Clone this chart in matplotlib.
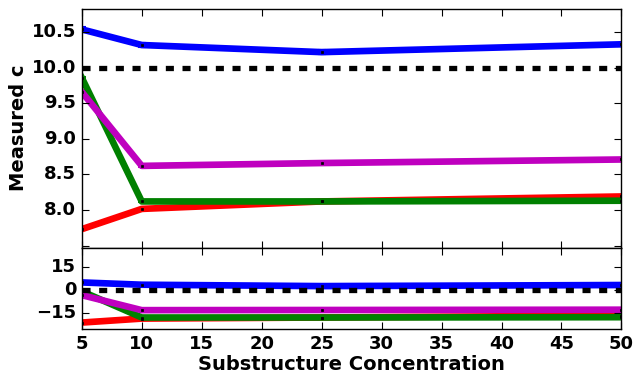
import matplotlib
matplotlib.use("Agg")
import matplotlib.pyplot as plt
from matplotlib.ticker import FixedLocator

plt.style.use("classic")
plt.rcParams['font.family'] = ['DejaVu Sans']
plt.rcParams['font.weight'] = 'bold'

# data
conc = [5, 10, 25, 50]
true_c = 10.0

c_blue = [10.54, 10.32, 10.22, 10.33]
c_magenta = [9.66, 8.62, 8.66, 8.71]
c_green = [9.86, 8.12, 8.12, 8.13]
c_red = [7.73, 8.015, 8.12, 8.19]

err_blue = [0.03, 0.03, 0.03, 0.02]
err_magenta = [0.01, 0.01, 0.01, 0.01]
err_green = [0.01, 0.01, 0.01, 0.01]
err_red = [0.01, 0.01, 0.01, 0.01]

# percent deviation panel
d_blue = [4.8, 3.3, 2.4, 3.1]
d_magenta = [-3.5, -13.3, -13.2, -13.0]
d_green = [-1.0, -18.1, -18.1, -17.9]
d_red = [-21.4, -18.8, -18.1, -16.8]

series = [
    ("r", c_red, err_red, d_red),
    ("g", c_green, err_green, d_green),
    ("m", c_magenta, err_magenta, d_magenta),
    ("b", c_blue, err_blue, d_blue),
]

xticks = [5, 10, 15, 20, 25, 30, 35, 40, 45, 50]
top_yticks = [7.5, 8.0, 8.5, 9.0, 9.5, 10.0, 10.5]
bot_yticks = [-15, 0, 15]

fig = plt.figure(figsize=(6.44, 3.81), dpi=100, facecolor="white")
ax1 = fig.add_axes([0.127, 0.350, 0.838, 0.627])
ax2 = fig.add_axes([0.127, 0.1365, 0.838, 0.2135], sharex=ax1)

for col, c, e, d in series:
    ax1.errorbar(conc, c, yerr=e, color=col, lw=4.8, capsize=3, elinewidth=1.5,
                 markeredgewidth=1.5, fmt='-', zorder=2)
    ax1.plot(conc, c, ls='none', marker='s', ms=1.8, color='k', mec='k', zorder=3)
    ax2.plot(conc, d, color=col, lw=4.8, zorder=2)
    ax2.plot(conc, d, ls='none', marker='s', ms=1.8, color='k', mec='k', zorder=3)

dash = (0, (5.8, 6.2))
ax1.axhline(true_c, color='k', lw=3.8, ls=dash, zorder=4)
ax2.axhline(0, color='k', lw=3.8, ls=dash, zorder=4)

ax1.set_xlim(5, 50)
ax1.set_ylim(7.47, 10.83)
ax2.set_ylim(-25.6, 27.5)

ax1.xaxis.set_major_locator(FixedLocator(xticks))
ax1.yaxis.set_major_locator(FixedLocator(top_yticks))
ax1.set_yticklabels(["", "8.0", "8.5", "9.0", "9.5", "10.0", "10.5"])
ax2.yaxis.set_major_locator(FixedLocator(bot_yticks))
ax2.set_yticklabels(["\u221215", "0", "15"])

plt.setp(ax1.get_xticklabels(), visible=False)

for ax in (ax1, ax2):
    ax.tick_params(labelsize=13, direction='in', length=5, width=0.8)
    for lab in ax.get_xticklabels() + ax.get_yticklabels():
        lab.set_fontweight('bold')
    for s in ax.spines.values():
        s.set_linewidth(1.0)

ax1.set_ylabel("Measured c", fontsize=14, fontweight='bold', labelpad=3)
ax2.set_xlabel("Substructure Concentration", fontsize=14, fontweight='bold', labelpad=2)

fig.savefig("out.png", dpi=100, facecolor="white")
